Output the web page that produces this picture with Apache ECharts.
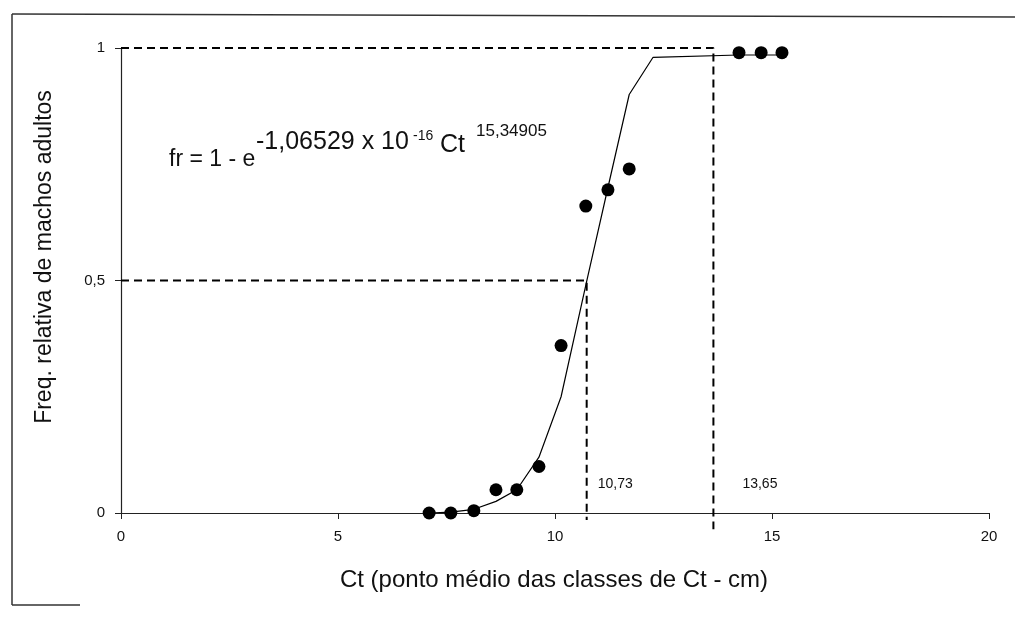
<!DOCTYPE html>
<html>
<head>
<meta charset="utf-8">
<script src="https://cdn.jsdelivr.net/npm/echarts@6/dist/echarts.min.js"></script>
<style>
html,body{margin:0;padding:0;background:#fff;}
#chart{width:1015px;height:619px;}
</style>
</head>
<body>
<div id="chart"></div>
<script>
// Observed class midpoints (Ct, cm) and relative frequency of adult males
const ctMid = [7.1, 7.6, 8.13, 8.64, 9.12, 9.63, 10.14, 10.71, 11.22, 11.71, 14.24, 14.75, 15.23];
const freqObs = [0, 0, 0.005, 0.05, 0.05, 0.1, 0.36, 0.66, 0.695, 0.74, 0.99, 0.99, 0.99];
// Fitted curve as drawn
const fitCt = [7.1, 7.6, 8.13, 8.64, 9.12, 9.63, 10.14, 10.71, 11.22, 11.71, 12.26, 14.24, 14.75, 15.23];
const fitFreq = [0, 0.002, 0.008, 0.025, 0.05, 0.12, 0.25, 0.49, 0.70, 0.90, 0.98, 0.985, 0.985, 0.985];
// Reference values (L50 and L100)
const guideCt = [10.73, 13.65];
const guideFreq = [0.5, 1];
const guideLabels = ['10,73', '13,65'];
const xTicks = [0, 5, 10, 15, 20];
const yTicks = [0, 0.5, 1];

const chart = echarts.init(document.getElementById('chart'));
const FONT = '"Liberation Sans", Arial, sans-serif';
const fmt = v => String(v).replace('.', ',');

const guideSeries = guideCt.map((gx, i) => ({
  type: 'line',
  data: [[0, guideFreq[i]], [gx, guideFreq[i]], [gx, i === 0 ? -0.015 : -0.035]],
  symbol: 'none',
  clip: false,
  silent: true,
  lineStyle: { color: '#000', width: 2, type: [8, 5] },
  z: 2
}));

const baseGraphic = [
  { type: 'line', shape: { x1: 12, y1: 14, x2: 1015, y2: 17 }, style: { stroke: '#333', lineWidth: 1.5 } },
  { type: 'line', shape: { x1: 12, y1: 14, x2: 12, y2: 605 }, style: { stroke: '#333', lineWidth: 1.5 } },
  { type: 'line', shape: { x1: 12, y1: 605, x2: 80, y2: 605 }, style: { stroke: '#333', lineWidth: 1.5 } },
  { type: 'text', x: 45, y: 257, rotation: Math.PI / 2,
    style: { text: 'Freq. relativa de machos adultos', font: '23px ' + FONT, fill: '#111',
      textAlign: 'center', textVerticalAlign: 'middle' } },
  { type: 'text', x: 169, y: 160,
    style: { text: 'fr = 1 - e', font: '23px ' + FONT, fill: '#111', textVerticalAlign: 'middle' } },
  { type: 'text', x: 256, y: 142,
    style: { text: '-1,06529 x 10', font: '25px ' + FONT, fill: '#111', textVerticalAlign: 'middle' } },
  { type: 'text', x: 413, y: 136,
    style: { text: '-16', font: '14px ' + FONT, fill: '#111', textVerticalAlign: 'middle' } },
  { type: 'text', x: 440, y: 145,
    style: { text: 'Ct', font: '25px ' + FONT, fill: '#111', textVerticalAlign: 'middle' } },
  { type: 'text', x: 476, y: 131,
    style: { text: '15,34905', font: '17px ' + FONT, fill: '#111', textVerticalAlign: 'middle' } }
];

const option = {
  animation: false,
  backgroundColor: '#fff',
  grid: { left: 121, right: 26, top: 48, bottom: 106, containLabel: false },
  xAxis: {
    type: 'value', min: 0, max: 20, interval: 5,
    axisLine: { lineStyle: { color: '#222', width: 1.2 } },
    axisTick: { show: true, length: 6, lineStyle: { color: '#222' } },
    axisLabel: { color: '#111', fontSize: 15, fontFamily: FONT, margin: 16,
      formatter: v => xTicks.includes(v) ? fmt(v) : '' },
    splitLine: { show: false }
  },
  yAxis: {
    type: 'value', min: 0, max: 1, interval: 0.5,
    axisLine: { show: true, lineStyle: { color: '#222', width: 1.2 } },
    axisTick: { show: true, length: 6, lineStyle: { color: '#222' } },
    axisLabel: { color: '#111', fontSize: 15, fontFamily: FONT, margin: 16,
      formatter: v => yTicks.includes(v) ? fmt(v) : '' },
    splitLine: { show: false }
  },
  series: [
    ...guideSeries,
    {
      type: 'line',
      data: fitCt.map((x, i) => [x, fitFreq[i]]),
      symbol: 'none',
      lineStyle: { color: '#000', width: 1.2 },
      z: 3
    },
    {
      type: 'scatter',
      data: ctMid.map((x, i) => [x, freqObs[i]]),
      symbol: 'circle',
      symbolSize: 13,
      itemStyle: { color: '#000', opacity: 1 },
      z: 4
    }
  ],
  graphic: baseGraphic
};
chart.setOption(option);

// Labels positioned through the axis scale
const extra = guideCt.map((gx, i) => {
  const p = chart.convertToPixel({ gridIndex: 0 }, [gx, 0.062]);
  return { type: 'text', x: p[0] + (i === 0 ? 11 : 29), y: p[1],
    style: { text: guideLabels[i], font: '14px ' + FONT, fill: '#111', textVerticalAlign: 'middle' } };
});
const mid = chart.convertToPixel({ gridIndex: 0 }, [10, 0]);
extra.push({ type: 'text', x: mid[0] - 1, y: 580,
  style: { text: 'Ct (ponto médio das classes de Ct - cm)', font: '24px ' + FONT, fill: '#111',
    textAlign: 'center', textVerticalAlign: 'middle' } });
chart.setOption({ graphic: baseGraphic.concat(extra) }, { replaceMerge: ['graphic'] });
</script>
</body>
</html>
